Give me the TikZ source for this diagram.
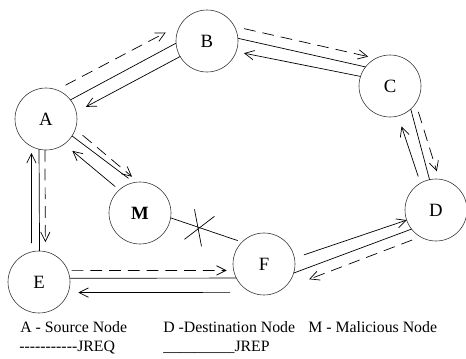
\documentclass[tikz,border=0pt]{standalone}
\usepackage{fontspec}
\setmainfont{Liberation Serif}
\usetikzlibrary{arrows.meta}

\begin{document}
\begin{tikzpicture}[x=0.03cm,y=-0.03cm]
    \tikzstyle{every path}=[line width=0.6pt]
    \tikzstyle{host}=[draw=black!80,line width=0.5pt,circle,minimum size=1.86cm,inner sep=0pt,outer sep=0pt,font=\fontsize{16}{19}\selectfont]
    \tikzstyle{jreq}=[dash pattern=on 10pt off 6pt]
    \tikzstyle{legend}=[anchor=base west,inner sep=0pt,font=\fontsize{13.5}{16}\selectfont]
    \tikzset{>={Straight Barb[length=8pt,width=8pt]}}
    \useasboundingbox (0,0) rectangle (466,359);

    % hosts
    \node[host] (A) at (46,119)  {A};
    \node[host] (B) at (207,41)  {B};
    \node[host] (C) at (390,86)  {C};
    \node[host] (D) at (436,210) {D};
    \node[host] (M) at (140,213) {\textbf{M}};
    \node[host] (E) at (39,282)  {E};
    \node[host] (F) at (264,264) {F};

    % A -- B
    \draw[jreq,->,shorten <=8.5pt,shorten >=14.5pt] (A.70) -- (B.148);
    \draw (A.38) -- (B.184);
    \draw[->,shorten >=9.4pt] (B.210) -- (A.13);

    % B -- C
    \draw[jreq,->,shorten <=8.5pt,shorten >=6.8pt] (B.28) -- (C.117);
    \draw (B.5) -- (C.142);
    \draw[->,shorten >=6.8pt] (C.162) -- (B.340);

    % C -- D
    \draw (C.312) -- (D.102);
    \draw[->,shorten <=6pt,shorten >=9.4pt] (D.120) -- (C.285);
    \draw[jreq,->,shorten <=7.6pt,shorten >=7pt] (C.326) -- (D.84);

    % D -- F
    \draw[->,shorten <=8.5pt] (F.11) -- (D.199);
    \draw (D.218) -- (F.343);
    \draw[jreq,->,shorten <=7.6pt,shorten >=25.8pt] (D.240) -- (F.303);

    % F -- E
    \draw[jreq,->,shorten <=3.4pt,shorten >=6pt] (E.22) -- (F.192.5);
    \draw (E.7) -- (F.207.5);
    \draw[->,shorten <=18.2pt,shorten >=8.7pt] (F.246) -- (E.340);

    % E -- A
    \draw (A.257) -- (E.89);
    \draw[->,shorten <=7.6pt,shorten >=5.6pt] (E.104) -- (A.242);
    \draw[jreq,->,shorten >=8.2pt] (A.268) -- (E.78.5);

    % A -- M
    \draw[shorten >=6pt] (A.327) -- (M.101);
    \draw[jreq,->,shorten <=8.2pt,shorten >=7.1pt] (A.341) -- (M.93);
    \draw[->,shorten <=4.5pt,shorten >=9pt] (M.132) -- (A.306);

    % M -- F, cut off
    \draw[shorten >=4pt] (M.351) -- coordinate[pos=0.39] (cut) (F.135);
    \draw (cut) ++(-4,-18) -- ++(7,37);
    \draw (cut) ++(-14,12) -- ++(30,-23);

    % legend
    \node[legend] (srcnote) at (20,332.7)  {A - Source Node};
    \node[legend] (dstnote) at (163,332.7) {D -Destination Node};
    \node[legend] (malnote) at (308,332.7) {M - Malicious Node};
    \node[legend] (reqnote) at (19,351.7)  {\foreach \i in {1,...,11}{-\kern0pt}JREQ};
    \node[legend] (repnote) at (163,351.7) {\_\_\_\_\_\_\_\_\_JREP};
\end{tikzpicture}
\end{document}
